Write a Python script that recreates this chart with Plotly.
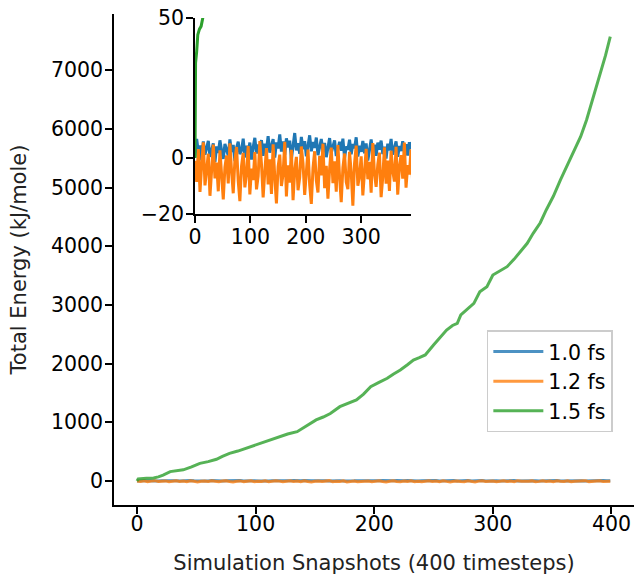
import plotly.graph_objects as go

# ---------------- data ----------------
green_x = [0, 1, 3, 5, 8, 11, 14, 18, 22, 28, 34, 39, 46, 53, 60, 67, 72, 78, 85, 92,
           100, 106, 113, 120, 127, 135, 143, 151, 157, 163, 171, 178, 185, 191, 197, 204,
           211, 216, 222, 228, 233, 238, 243, 250, 256, 261, 266, 270, 273, 278, 284, 289,
           295, 300, 306, 312, 318, 323, 329, 334, 340, 345, 351, 357, 361, 365, 370, 374,
           379, 385, 390, 395, 399]
green_y = [0, 34, 38, 44, 46, 47, 50, 70, 100, 160, 175, 190, 240, 300, 330, 370, 420, 470,
           510, 557, 610, 652, 700, 755, 800, 840, 940, 1040, 1090, 1150, 1266, 1320, 1380,
           1480, 1607, 1680, 1750, 1820, 1891, 1980, 2061, 2100, 2147, 2317, 2450, 2572, 2650,
           2687, 2828, 2920, 3027, 3225, 3310, 3509, 3580, 3651, 3780, 3906, 4050, 4219, 4400,
           4617, 4850, 5128, 5300, 5468, 5680, 5865, 6150, 6560, 6920, 7250, 7569]

noise_x = list(range(0, 400, 3))
blue_y = [0.5, 6.8, 2.1, 4.5, -0.8, 5.9, 1.2, 3.8, 6.1, 0.4, 2.9, 5.2, -1.5, 4.1, 1.8, 6.3, 2.6, -0.3, 5.0, 3.3,
          0.9, 6.6, 2.2, 4.7, -1.1, 3.6, 5.8, 1.4, 2.8, 6.9, 0.2, 4.4, 2.0, 5.5, -0.6, 3.9, 7.2, 1.6, 4.8, 2.5,
          6.4, 0.8, 5.1, 3.0, 7.8, 1.9, 4.2, 6.7, 0.1, 5.6, 3.4, 8.4, 2.3, 5.9, 1.1, 7.0, 3.8, 6.2, -0.4, 4.6,
          8.9, 2.7, 5.3, 1.5, 7.5, 3.1, 6.0, 0.6, 4.9, 8.1, 2.4, 5.7, 3.6, 7.3, 1.0, 4.3, 6.8, 2.1, 5.4, 0.3,
          3.7, 7.1, 1.8, 4.5, 6.3, 0.7, 3.2, 5.8, 2.6, 6.9, 0.0, 4.1, 2.9, 6.5, 1.3, 5.0, 3.5, 7.4, 0.5, 4.4,
          2.2, 6.1, 1.7, 5.2, -0.9, 3.8, 6.6, 2.0, 4.7, 0.8, 5.5, 3.0, 6.2, 1.4, 4.0, -0.2, 5.1, 2.7, 6.8, 1.2,
          3.6, 5.9, 0.4, 4.3, 2.5, 6.0, 1.9, 4.9, 0.9, 5.6, 3.2, 6.4, 2.3, 4.6]
orange_y = [-1.0, -8.5, 3.2, -12.1, -2.4, 5.6, -9.8, -4.1, 1.5, -13.5, -5.2, 4.8, -7.3, -1.6, -11.9, 2.7, -6.0, -14.8, -3.3, 0.9,
            -9.1, 5.2, -4.7, -12.6, -0.8, 3.9, -8.2, -15.4, -2.9, 1.8, -10.5, -5.6, 4.3, -13.0, -3.8, -7.9, 2.1, -11.2, -6.5, 6.0,
            -2.2, -14.1, -4.9, 3.5, -9.4, -0.5, -12.8, 4.9, -6.9, -16.2, -3.1, 1.2, -10.0, -5.8, 5.8, -13.7, -2.6, -8.8, 2.9, -15.1,
            -4.4, 0.4, -11.5, -7.0, 4.1, -1.9, -13.2, -5.3, 3.0, -9.6, -16.4, -3.6, 2.4, -8.1, -12.3, 0.8, -6.2, 5.1, -10.8, -2.8,
            -14.5, -4.0, 3.7, -9.0, -1.2, -12.0, 4.6, -6.7, -15.8, -3.4, 1.6, -8.6, -11.1, 2.2, -5.1, -17.0, -2.0, 4.4, -9.9, -6.4,
            0.6, -13.4, -3.9, 3.3, -7.6, -1.4, -12.4, 5.3, -5.5, -10.3, -2.3, 1.9, -14.0, -6.8, 3.8, -9.2, -0.9, -11.8, 2.6, -4.6,
            -8.4, 4.0, -13.1, -3.0, 1.0, -7.4, 5.5, -10.6, -2.5, -5.9, 3.1, -8.9, -1.7, -6.1]

labels = ["1.0 fs", "1.2 fs", "1.5 fs"]
colors = ["#1f77b4", "#ff7f0e", "#2ca02c"]

main_x_ticks = [0, 100, 200, 300, 400]
main_y_ticks = [0, 1000, 2000, 3000, 4000, 5000, 6000, 7000]
inset_x_ticks = [0, 100, 200, 300]
inset_y_ticks = [-20, 0, 50]

# ---------------- figure ----------------
fig = go.Figure()
series = [(noise_x, blue_y), (noise_x, orange_y), (green_x, green_y)]
for (xs, ys), lab, col in zip(series, labels, colors):
    fig.add_trace(go.Scatter(x=xs, y=ys, mode="lines", name=lab, opacity=0.8,
                             line=dict(color=col, width=3), xaxis="x", yaxis="y"))
for (xs, ys), lab, col in zip(series, labels, colors):
    fig.add_trace(go.Scatter(x=xs, y=ys, mode="lines", name=lab, showlegend=False,
                             line=dict(color=col, width=3), xaxis="x2", yaxis="y2"))

tick_font = dict(family="DejaVu Sans", size=20.5, color="#000000")
label_font = dict(family="DejaVu Sans", size=21, color="#222222")
axis_common = dict(showline=True, linecolor="black", linewidth=1.7, ticks="outside",
                   ticklen=7, tickwidth=1.5, tickcolor="black", showgrid=False,
                   zeroline=False, tickfont=tick_font)

fig.update_layout(
    width=635, height=575,
    margin=dict(l=114, r=1, t=14, b=70),
    paper_bgcolor="white", plot_bgcolor="white",
    font=tick_font,
    xaxis=dict(domain=[0, 1], range=[-19.4, 419], tickvals=main_x_ticks, ticklabelstandoff=-7,
               title=dict(text="Simulation Snapshots (400 timesteps)", font=label_font, standoff=22),
               **axis_common),
    yaxis=dict(domain=[0, 1], range=[-409, 7956], tickvals=main_y_ticks, ticklabelstandoff=-2,
               title=dict(text="Total Energy (kJ/mole)", font=label_font, standoff=19),
               **axis_common),
    xaxis2=dict(domain=[0.1558, 0.5712], range=[0, 390], tickvals=inset_x_ticks,
                ticklabelstandoff=-3, anchor="y2", **axis_common),
    yaxis2=dict(domain=[0.5927, 0.9919], range=[-20, 50], tickvals=inset_y_ticks,
                ticklabelstandoff=-2, anchor="x2", **axis_common),
    legend=dict(x=0.717, y=0.356, xanchor="left", yanchor="top", itemwidth=50,
                bordercolor="#cccccc", borderwidth=1.5, bgcolor="white",
                font=tick_font, tracegroupgap=0),
    showlegend=True,
)

fig.write_html("out.html")
